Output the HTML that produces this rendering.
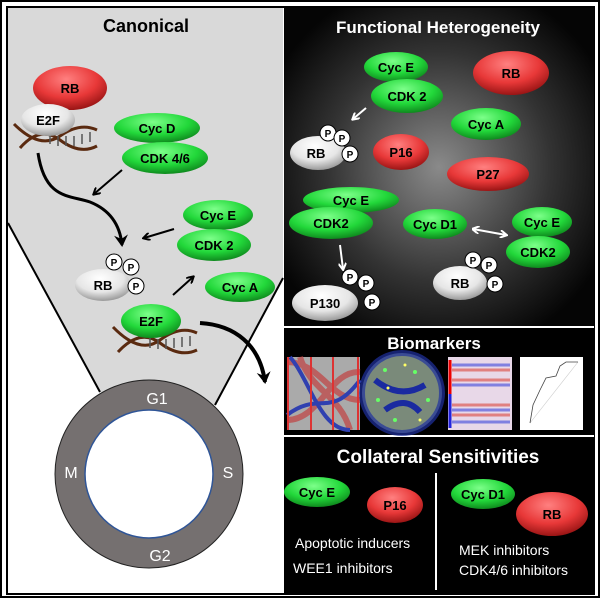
<!DOCTYPE html>
<html><head><meta charset="utf-8"><style>body{margin:0;background:#fff}svg{display:block}text{font-family:"Liberation Sans",sans-serif}</style></head><body>
<svg width="600" height="598" viewBox="0 0 600 598" xmlns="http://www.w3.org/2000/svg">
<defs>
<radialGradient id="bg" cx="0.5" cy="0.5" r="0.6"><stop offset="0" stop-color="#8a8a8a"/><stop offset="0.6" stop-color="#333"/><stop offset="1" stop-color="#050505"/></radialGradient>
<radialGradient id="gr" cx="0.45" cy="0.3" r="0.7"><stop offset="0" stop-color="#7dff8a"/><stop offset="0.6" stop-color="#22d83a"/><stop offset="1" stop-color="#0f8a1e"/></radialGradient>
<radialGradient id="rd" cx="0.45" cy="0.3" r="0.7"><stop offset="0" stop-color="#ff8080"/><stop offset="0.6" stop-color="#e83838"/><stop offset="1" stop-color="#9a1515"/></radialGradient>
<radialGradient id="wh" cx="0.45" cy="0.3" r="0.7"><stop offset="0" stop-color="#ffffff"/><stop offset="0.6" stop-color="#e6e6e6"/><stop offset="1" stop-color="#9a9a9a"/></radialGradient>
<marker id="ab" markerWidth="8" markerHeight="8" refX="6" refY="4" orient="auto" markerUnits="userSpaceOnUse"><path d="M0,0 L7,4 L0,8" fill="none" stroke="#000" stroke-width="2"/></marker>
<marker id="abf" markerWidth="14" markerHeight="14" refX="10" refY="7" orient="auto" markerUnits="userSpaceOnUse"><path d="M0,0 L12,7 L0,14 L4,7Z" fill="#000"/></marker>
<marker id="aw" markerWidth="8" markerHeight="8" refX="6" refY="4" orient="auto" markerUnits="userSpaceOnUse"><path d="M0,0 L7,4 L0,8" fill="none" stroke="#fff" stroke-width="2"/></marker>
<marker id="aws" markerWidth="8" markerHeight="8" refX="1" refY="4" orient="auto" markerUnits="userSpaceOnUse"><path d="M7,0 L0,4 L7,8" fill="none" stroke="#fff" stroke-width="2"/></marker>
</defs>
<rect x="1" y="1" width="598" height="596" fill="#fff" stroke="#000" stroke-width="2"/>
<rect x="7" y="7" width="587" height="587" fill="none" stroke="#000" stroke-width="2"/>
<path d="M8,8 H283 V278 L215,405 L100,392 L8,223 Z" fill="#d9d9d9"/>
<path d="M8,223 L100,392 M283,278 L215,405" stroke="#000" stroke-width="2" fill="none"/>
<text x="146" y="32" font-size="18" font-weight="bold" text-anchor="middle">Canonical</text>
<g stroke="#5a2a10" stroke-width="3" fill="none"><path d="M14,124 Q40,150 60,136 T97,130"/><path d="M20,148 Q40,125 60,140 T97,146"/></g>
<g stroke="#555" stroke-width="1.5"><path d="M50,134v10M58,136v10M66,136v10M74,136v10M82,134v10M90,132v10"/></g>
<g stroke="#5a2a10" stroke-width="3" fill="none"><path d="M113,327 Q140,355 160,340 T197,333"/><path d="M118,352 Q140,328 160,343 T197,350"/></g>
<g stroke="#555" stroke-width="1.5"><path d="M150,338v10M158,339v10M166,339v10M174,338v10M182,337v10M190,336v10"/></g>
<g font-weight="bold" text-anchor="middle" font-size="13">
<ellipse cx="70" cy="88" rx="37" ry="22" fill="url(#rd)"/><text x="70" y="93">RB</text>
<ellipse cx="48" cy="120" rx="27" ry="16" fill="url(#wh)"/><text x="48" y="125">E2F</text>
<ellipse cx="157" cy="128" rx="43" ry="15" fill="url(#gr)"/><text x="157" y="133">Cyc D</text>
<ellipse cx="165" cy="158" rx="43" ry="16" fill="url(#gr)"/><text x="165" y="163">CDK 4/6</text>
<ellipse cx="218" cy="215" rx="35" ry="15" fill="url(#gr)"/><text x="218" y="220">Cyc E</text>
<ellipse cx="214" cy="245" rx="37" ry="16" fill="url(#gr)"/><text x="214" y="250">CDK 2</text>
<ellipse cx="103" cy="285" rx="28" ry="16" fill="url(#wh)"/><text x="103" y="290">RB</text>
<ellipse cx="240" cy="287" rx="35" ry="15" fill="url(#gr)"/><text x="240" y="292">Cyc A</text>
<ellipse cx="151" cy="321" rx="30" ry="17" fill="url(#gr)"/><text x="151" y="326">E2F</text>
</g>
<g font-weight="bold" text-anchor="middle" font-size="10">
<circle cx="114" cy="262" r="8" fill="#fff" stroke="#000"/><text x="114" y="266">P</text>
<circle cx="131" cy="267" r="8" fill="#fff" stroke="#000"/><text x="131" y="271">P</text>
<circle cx="136" cy="286" r="8" fill="#fff" stroke="#000"/><text x="136" y="290">P</text>
</g>
<g stroke="#000" stroke-width="2" fill="none">
<path d="M122,170 L94,194" marker-end="url(#ab)"/>
<path d="M174,229 L144,238" marker-end="url(#ab)"/>
<path d="M173,295 L193,277" marker-end="url(#ab)"/>
<path d="M38,153 C45,200 70,195 90,202 C110,210 120,225 122,245" stroke-width="3" marker-end="url(#abf)"/>
<path d="M200,323 C235,325 260,345 265,382" stroke-width="4" marker-end="url(#abf)"/>
</g>
<circle cx="149" cy="474" r="94" fill="#757070" stroke="#222" stroke-width="1"/>
<circle cx="149" cy="474" r="64" fill="#fff" stroke="#2f5597" stroke-width="1.5"/>
<g fill="#fff" font-size="16" text-anchor="middle"><text x="157" y="404">G1</text><text x="228" y="478">S</text><text x="160" y="561">G2</text><text x="71" y="478">M</text></g>
<rect x="284" y="8" width="310" height="318" fill="url(#bg)"/>
<rect x="284" y="328" width="310" height="266" fill="#000"/>
<path d="M284,327H594M284,436H594" stroke="#fff" stroke-width="2"/>
<text x="438" y="33" font-size="17" font-weight="bold" fill="#fff" text-anchor="middle">Functional Heterogeneity</text>
<g font-weight="bold" text-anchor="middle" font-size="13">
<ellipse cx="396" cy="67" rx="32" ry="15" fill="url(#gr)"/><text x="396" y="72">Cyc E</text>
<ellipse cx="407" cy="96" rx="36" ry="17" fill="url(#gr)"/><text x="407" y="101">CDK 2</text>
<ellipse cx="511" cy="73" rx="38" ry="22" fill="url(#rd)"/><text x="511" y="78">RB</text>
<ellipse cx="318" cy="153" rx="28" ry="17" fill="url(#wh)"/><text x="316" y="158">RB</text>
<ellipse cx="401" cy="152" rx="28" ry="18" fill="url(#rd)"/><text x="401" y="157">P16</text>
<ellipse cx="486" cy="124" rx="35" ry="16" fill="url(#gr)"/><text x="486" y="129">Cyc A</text>
<ellipse cx="488" cy="174" rx="41" ry="17" fill="url(#rd)"/><text x="488" y="179">P27</text>
<ellipse cx="351" cy="200" rx="48" ry="13" fill="url(#gr)"/><text x="351" y="205">Cyc E</text>
<ellipse cx="331" cy="223" rx="42" ry="16" fill="url(#gr)"/><text x="331" y="228">CDK2</text>
<ellipse cx="325" cy="303" rx="33" ry="18" fill="url(#wh)"/><text x="325" y="308">P130</text>
<ellipse cx="435" cy="224" rx="32" ry="15" fill="url(#gr)"/><text x="435" y="229">Cyc D1</text>
<ellipse cx="542" cy="222" rx="30" ry="15" fill="url(#gr)"/><text x="542" y="227">Cyc E</text>
<ellipse cx="538" cy="252" rx="32" ry="16" fill="url(#gr)"/><text x="538" y="257">CDK2</text>
<ellipse cx="460" cy="283" rx="27" ry="17" fill="url(#wh)"/><text x="460" y="288">RB</text>
</g>
<g font-weight="bold" text-anchor="middle" font-size="10">
<circle cx="328" cy="133" r="8" fill="#fff" stroke="#000"/><text x="328" y="137">P</text>
<circle cx="342" cy="138" r="8" fill="#fff" stroke="#000"/><text x="342" y="142">P</text>
<circle cx="350" cy="154" r="8" fill="#fff" stroke="#000"/><text x="350" y="158">P</text>
<circle cx="350" cy="277" r="8" fill="#fff" stroke="#000"/><text x="350" y="281">P</text>
<circle cx="366" cy="283" r="8" fill="#fff" stroke="#000"/><text x="366" y="287">P</text>
<circle cx="372" cy="302" r="8" fill="#fff" stroke="#000"/><text x="372" y="306">P</text>
<circle cx="473" cy="260" r="8" fill="#fff" stroke="#000"/><text x="473" y="264">P</text>
<circle cx="489" cy="265" r="8" fill="#fff" stroke="#000"/><text x="489" y="269">P</text>
<circle cx="495" cy="284" r="8" fill="#fff" stroke="#000"/><text x="495" y="288">P</text>
</g>
<g stroke="#fff" stroke-width="2" fill="none">
<path d="M366,108 L353,119" marker-end="url(#aw)"/>
<path d="M340,245 L343,269" marker-end="url(#aw)"/>
<path d="M473,229 L506,235" marker-start="url(#aws)" marker-end="url(#aw)"/>
</g>
<text x="434" y="349" font-size="17" font-weight="bold" fill="#fff" text-anchor="middle">Biomarkers</text>
<rect x="287" y="357" width="73" height="73" fill="#aaa"/>
<path d="M287,362 C320,362 330,400 360,400 M287,420 C320,420 330,370 360,372 M300,357 C310,390 340,395 350,430" stroke="#c04040" stroke-width="6" fill="none" opacity="0.7"/>
<path d="M287,415 C320,390 330,420 360,380 M290,357 C310,380 320,430 350,430" stroke="#3040b0" stroke-width="4" fill="none"/>
<path d="M288,357v73M311,357v73M333,357v73M358,357v73" stroke="#d33" stroke-width="2"/>
<circle cx="402" cy="393" r="40" fill="#7a8a7a"/>
<circle cx="402" cy="393" r="40" fill="none" stroke="#2030a0" stroke-width="6" opacity="0.7"/>
<path d="M375,380 Q400,400 425,385 M385,410 Q405,395 420,412" stroke="#1a2aa0" stroke-width="6" fill="none"/>
<g fill="#6f6"><circle cx="385" cy="370" r="2"/><circle cx="415" cy="372" r="2"/><circle cx="395" cy="420" r="2"/><circle cx="428" cy="400" r="2"/><circle cx="378" cy="400" r="2"/></g>
<g fill="#ff6"><circle cx="405" cy="365" r="1.5"/><circle cx="420" cy="420" r="1.5"/><circle cx="388" cy="388" r="1.5"/></g>
<rect x="448" y="357" width="64" height="73" fill="#e8d8e8"/>
<path d="M450,360v34" stroke="#e00" stroke-width="3"/><path d="M450,394v34" stroke="#22d" stroke-width="3"/>
<path d="M452,370h58M452,380h58M452,405h58M452,415h58" stroke="#e08080" stroke-width="3"/>
<path d="M452,365h58M452,385h58M452,410h58M452,422h58" stroke="#8080e0" stroke-width="3"/>
<rect x="520" y="357" width="63" height="73" fill="#fff"/>
<path d="M530,423 L578,362" stroke="#ccc" stroke-width="0.6"/>
<path d="M530,423 L533,405 L540,390 L546,378 L556,376 L560,366 L566,362 L578,362" stroke="#444" stroke-width="0.8" fill="none"/>
<text x="438" y="463" font-size="19" font-weight="bold" fill="#fff" text-anchor="middle">Collateral Sensitivities</text>
<path d="M436,473V590" stroke="#fff" stroke-width="2"/>
<g font-weight="bold" text-anchor="middle" font-size="13">
<ellipse cx="317" cy="492" rx="33" ry="15" fill="url(#gr)"/><text x="317" y="497">Cyc E</text>
<ellipse cx="395" cy="505" rx="28" ry="18" fill="url(#rd)"/><text x="395" y="510">P16</text>
<ellipse cx="483" cy="494" rx="32" ry="15" fill="url(#gr)"/><text x="483" y="499">Cyc D1</text>
<ellipse cx="552" cy="514" rx="36" ry="22" fill="url(#rd)"/><text x="552" y="519">RB</text>
</g>
<g fill="#fff" font-size="14"><text x="295" y="548">Apoptotic inducers</text><text x="293" y="573">WEE1 inhibitors</text><text x="459" y="555">MEK inhibitors</text><text x="459" y="575">CDK4/6 inhibitors</text></g>
</svg>
</body></html>
